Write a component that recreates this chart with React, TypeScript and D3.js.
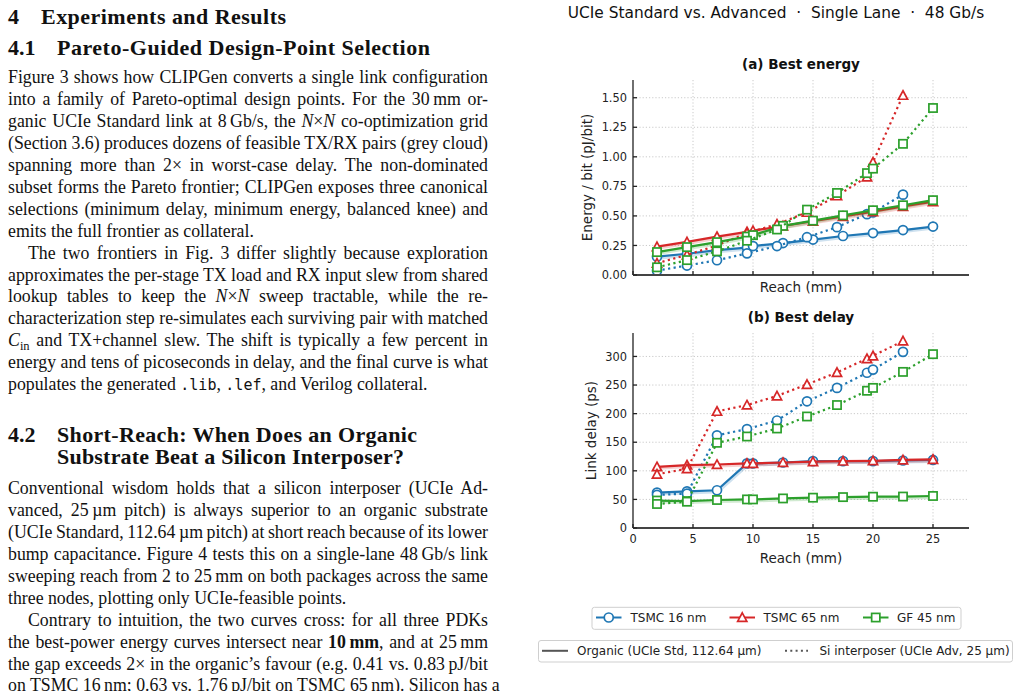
import React, { useLayoutEffect, useRef } from 'react';
import * as d3 from 'd3';

// ---------------- data ----------------
const PDKS = ['TSMC 16 nm', 'TSMC 65 nm', 'GF 45 nm'];
const COLORS = ['#1f77b4', '#d62728', '#2ca02c'];
const MARKERS = ['circle', 'triangle', 'square'];

const orgReach = [2, 4.5, 7, 9.5, 10, 12.5, 15, 17.5, 20, 22.5, 25];
const siReach16 = [2, 4.5, 7, 9.5, 12, 14.5, 17, 19.5, 20, 22.5];
const siReach65 = [2, 4.5, 7, 9.5, 12, 14.5, 17, 19.5, 20, 22.5];
const siReachGF = [2, 4.5, 7, 9.5, 12, 14.5, 17, 19.5, 20, 22.5, 25];

// (a) best energy, pJ/bit
const orgE16 = [0.155, 0.18, 0.21, 0.232, 0.245, 0.27, 0.3, 0.33, 0.355, 0.38, 0.41];
const siE16 = [0.037, 0.08, 0.125, 0.183, 0.245, 0.32, 0.405, 0.515, 0.53, 0.68];
const orgE65 = [0.24, 0.28, 0.325, 0.365, 0.375, 0.415, 0.455, 0.495, 0.535, 0.58, 0.62];
const siE65 = [0.1, 0.17, 0.25, 0.355, 0.43, 0.53, 0.67, 0.83, 0.955, 1.52];
const orgEGF = [0.194, 0.236, 0.278, 0.325, 0.337, 0.416, 0.46, 0.505, 0.548, 0.59, 0.633];
const siEGF = [0.065, 0.126, 0.2, 0.29, 0.385, 0.553, 0.694, 0.862, 0.9, 1.11, 1.413];

// (b) best delay, ps
const orgD16 = [62, 64, 66, 113, 113, 114.5, 117, 117, 117, 118, 119];
const siD16 = [58, 60, 162, 173, 188, 221.5, 245, 271.5, 277, 308];
const orgD65 = [107, 110, 111, 113, 113, 114.5, 116, 117, 117.5, 119, 120];
const siD65 = [94, 103.5, 204, 215, 231, 251, 272, 296, 301, 327];
const orgDGF = [48, 47, 49, 50, 50, 51.7, 53, 54, 54.7, 55, 56];
const siDGF = [42, 46, 149, 160, 174, 195, 215, 240, 245, 273, 304];

const xTicks = [0, 5, 10, 15, 20, 25];
const eTicks = [0, 0.25, 0.5, 0.75, 1.0, 1.25, 1.5];
const dTicks = [0, 50, 100, 150, 200, 250, 300];

const SUPTITLE = 'UCIe Standard vs. Advanced  \u00b7  Single Lane  \u00b7  48 Gb/s';
const PKG_LABELS = ['Organic (UCIe Std, 112.64 \u00b5m)', 'Si interposer (UCIe Adv, 25 \u00b5m)'];

// ---------------- paper text ----------------
type Line = { x: number; y: number; w: number; s: string };
const BODY_LINES: Line[] = [];
const LH = 21.9;
function addPara(lines: string[], y0: number, indent: boolean) {
  lines.forEach((s, i) => {
    const last = i === lines.length - 1;
    const x = indent && i === 0 ? 28 : 8;
    BODY_LINES.push({ x, y: y0 + i * LH, w: last ? 0 : 488 - x, s });
  });
}
addPara([
  'Figure 3 shows how CLIPGen converts a single link configuration',
  'into a family of Pareto-optimal design points. For the 30\u2009mm or-',
  'ganic UCIe Standard link at 8\u2009Gb/s, the *N*\u00d7*N* co-optimization grid',
  '(Section 3.6) produces dozens of feasible TX/RX pairs (grey cloud)',
  'spanning more than 2\u00d7 in worst-case delay. The non-dominated',
  'subset forms the Pareto frontier; CLIPGen exposes three canonical',
  'selections (minimum delay, minimum energy, balanced knee) and',
  'emits the full frontier as collateral.',
], 83.4, false);
addPara([
  'The two frontiers in Fig. 3 differ slightly because exploration',
  'approximates the per-stage TX load and RX input slew from shared',
  'lookup tables to keep the *N*\u00d7*N* sweep tractable, while the re-',
  'characterization step re-simulates each surviving pair with matched',
  '*C*_in_ and TX+channel slew. The shift is typically a few percent in',
  'energy and tens of picoseconds in delay, and the final curve is what',
  'populates the generated `.lib`, `.lef`, and Verilog collateral.',
], 83.4 + 8 * LH, true);
addPara([
  'Conventional wisdom holds that a silicon interposer (UCIe Ad-',
  'vanced, 25\u2009\u00b5m pitch) is always superior to an organic substrate',
  '(UCIe Standard, 112.64\u2009\u00b5m pitch) at short reach because of its lower',
  'bump capacitance. Figure 4 tests this on a single-lane 48\u2009Gb/s link',
  'sweeping reach from 2 to 25\u2009mm on both packages across the same',
  'three nodes, plotting only UCIe-feasible points.',
], 494.3, false);
addPara([
  'Contrary to intuition, the two curves cross: for all three PDKs',
  'the best-power energy curves intersect near ^10\u2009mm^, and at 25\u2009mm',
  'the gap exceeds 2\u00d7 in the organic\u2019s favour (e.g. 0.41 vs. 0.83\u2009pJ/bit',
  'on TSMC 16\u2009nm; 0.63 vs. 1.76\u2009pJ/bit on TSMC 65\u2009nm). Silicon has a',
], 494.3 + 6 * LH, true);

const HEADINGS = [
  { num: '4', x: 41, y: 24, w: 245, t: 'Experiments and Results' },
  { num: '4.1', x: 57, y: 55, w: 373, t: 'Pareto-Guided Design-Point Selection' },
  { num: '4.2', x: 57, y: 441.6, w: 360, t: 'Short-Reach: When Does an Organic' },
  { num: '', x: 57, y: 463.5, w: 347, t: 'Substrate Beat a Silicon Interposer?' },
];

function renderSegs(s: string) {
  const parts = s.split(/(\*[^*]+\*|\^[^^]+\^|`[^`]+`|_[^_]+_)/).filter((p) => p.length);
  let pendingUp = false;
  return parts.map((p, i) => {
    const props: any = { key: i };
    let t = p;
    if (pendingUp) { props.dy = -4; pendingUp = false; }
    if (p[0] === '*') { t = p.slice(1, -1); props.fontStyle = 'italic'; }
    else if (p[0] === '^') { t = p.slice(1, -1); props.fontWeight = 'bold'; }
    else if (p[0] === '`') { t = p.slice(1, -1); props.fontFamily = 'DejaVu Sans Mono'; props.fontSize = 15; }
    else if (p[0] === '_') { t = p.slice(1, -1); props.fontSize = 12.5; props.dy = 4; pendingUp = true; }
    return <tspan {...props}>{t}</tspan>;
  });
}

// ---------------- chart ----------------
const FONT = 'DejaVu Sans';
const xS = d3.scaleLinear().domain([0, 28]).range([633, 969]);
const yE = d3.scaleLinear().domain([0, 1.65]).range([275, 80]);
const yD = d3.scaleLinear().domain([0, 341]).range([528, 333]);

function Marker({ type, x, y, color }: { type: string; x: number; y: number; color: string }) {
  const common = { fill: '#fff', stroke: color, strokeWidth: 1.7 };
  if (type === 'circle') return <circle cx={x} cy={y} r={4.5} {...common} />;
  if (type === 'square') return <rect x={x - 4.1} y={y - 4.1} width={8.2} height={8.2} {...common} />;
  const h = 4.6;
  return <path d={`M${x},${y - h}L${x + h},${y + h * 0.85}L${x - h},${y + h * 0.85}Z`} {...common} />;
}

type Series = { xs: number[]; ys: number[]; color: string; marker: string; dotted: boolean };

function Panel({ y, ticks, fmt, title, ylabel, series, showX, top, bottom, ylabelX }: any) {
  const line = d3.line<[number, number]>().x((d) => xS(d[0])).y((d) => y(d[1]));
  const L = 633, R = 969;
  return (
    <g>
      {/* grid */}
      {ticks.filter((t: number) => t > 0).map((t: number) => (
        <line key={'gy' + t} x1={L} x2={R} y1={y(t)} y2={y(t)} stroke="#c4c4c4" strokeWidth={0.9} strokeDasharray="1.2,2" />
      ))}
      {xTicks.filter((t) => t > 0).map((t) => (
        <line key={'gx' + t} x1={xS(t)} x2={xS(t)} y1={top} y2={bottom} stroke="#c4c4c4" strokeWidth={0.9} strokeDasharray="1.2,2" />
      ))}
      {/* series */}
      {series.map((s: Series, i: number) => {
        const pts = s.xs.map((x, k) => [x, s.ys[k]] as [number, number]);
        return (
          <g key={i}>
            {!s.dotted && (
              <path d={line(pts) || ''} fill="none" stroke={s.color} strokeWidth={2.8} opacity={0.22} transform="translate(1,1.6)" />
            )}
            <path d={line(pts) || ''} fill="none" stroke={s.color} strokeWidth={2.2}
              strokeDasharray={s.dotted ? '2.2,3.4' : undefined} />
            {pts.map((p, k) => (
              <Marker key={k} type={s.marker} x={xS(p[0])} y={y(p[1])} color={s.color} />
            ))}
          </g>
        );
      })}
      {/* spines */}
      <line x1={L} x2={L} y1={top} y2={bottom} stroke="#222" strokeWidth={1.3} />
      <line x1={L} x2={R} y1={bottom} y2={bottom} stroke="#444" strokeWidth={1.8} />
      {/* y ticks */}
      {ticks.map((t: number) => (
        <g key={'ty' + t}>
          <line x1={L} x2={L + 4} y1={y(t)} y2={y(t)} stroke="#222" strokeWidth={1.3} />
          <text x={627} y={y(t) + 4.1} textAnchor="end" fontFamily={FONT} fontSize={11.4} fill="#222">{fmt(t)}</text>
        </g>
      ))}
      {/* x ticks */}
      {xTicks.map((t) => (
        <g key={'tx' + t}>
          <line x1={xS(t)} x2={xS(t)} y1={bottom} y2={bottom - 4} stroke="#222" strokeWidth={1.3} />
          {showX && (
            <text x={xS(t)} y={bottom + 15.3} textAnchor="middle" fontFamily={FONT} fontSize={11.4} fill="#222">{t}</text>
          )}
        </g>
      ))}
      <text x={(L + R) / 2} y={top - 11} textAnchor="middle" fontFamily={FONT} fontWeight="bold" fontSize={13.5} fill="#111">{title}</text>
      <text x={(L + R) / 2} y={showX ? bottom + 35 : bottom + 17} textAnchor="middle" fontFamily={FONT} fontSize={13.5} fill="#222">Reach (mm)</text>
      <text transform={`translate(${ylabelX},${(top + bottom) / 2}) rotate(-90)`} textAnchor="middle" fontFamily={FONT} fontSize={13.5} fill="#222">{ylabel}</text>
    </g>
  );
}

export default function App() {
  const ref = useRef<SVGSVGElement>(null);
  useLayoutEffect(() => {
    document.body.style.margin = '0';
    const svg = ref.current;
    if (!svg) return;
    d3.select(svg).selectAll<SVGTextElement, unknown>('text.just').each(function () {
      const el = this;
      const target = +(el.getAttribute('data-w') || 0);
      el.style.wordSpacing = '0px';
      const w = el.getComputedTextLength();
      const n = ((el.textContent || '').match(/ /g) || []).length;
      if (n > 0) el.style.wordSpacing = `${(target - w) / n}px`;
    });
  }, []);

  const eSeries: Series[] = [];
  const dSeries: Series[] = [];
  const orgE = [orgE16, orgE65, orgEGF];
  const siE = [siE16, siE65, siEGF];
  const orgD = [orgD16, orgD65, orgDGF];
  const siD = [siD16, siD65, siDGF];
  const siR = [siReach16, siReach65, siReachGF];
  PDKS.forEach((_, i) => {
    eSeries.push({ xs: orgReach, ys: orgE[i], color: COLORS[i], marker: MARKERS[i], dotted: false });
    eSeries.push({ xs: siR[i], ys: siE[i], color: COLORS[i], marker: MARKERS[i], dotted: true });
    dSeries.push({ xs: orgReach, ys: orgD[i], color: COLORS[i], marker: MARKERS[i], dotted: false });
    dSeries.push({ xs: siR[i], ys: siD[i], color: COLORS[i], marker: MARKERS[i], dotted: true });
  });

  const legPdkX = [596, 729.5, 863];
  const legTextX = [630.5, 763.5, 897];

  return (
    <svg ref={ref} width={1021} height={691} style={{ position: 'absolute', left: 0, top: 0, background: '#fff' }}>
      <rect width={1021} height={691} fill="#fff" />
      {/* ---- paper text ---- */}
      <g fontFamily="Liberation Serif" fill="#111">
        {HEADINGS.map((h, i) => (
          <g key={i} fontWeight="bold" fontSize={22}>
            {h.num && <text x={8} y={h.y}>{h.num}</text>}
            <text x={h.x} y={h.y} textLength={h.w} lengthAdjust="spacing">{h.t}</text>
          </g>
        ))}
        {BODY_LINES.map((l, i) => (
          <text key={i} x={l.x} y={l.y} fontSize={17.8} className={l.w ? 'just' : undefined} data-w={l.w}
            style={{ whiteSpace: 'pre' }}>
            {renderSegs(l.s)}
          </text>
        ))}
      </g>
      {/* ---- chart ---- */}
      <text x={776} y={18.3} textAnchor="middle" fontFamily={FONT} fontSize={15.4} fill="#111" style={{ whiteSpace: 'pre' }}>{SUPTITLE}</text>
      <Panel y={yE} ticks={eTicks} fmt={(t: number) => t.toFixed(2)} title="(a) Best energy" ylabel="Energy / bit (pJ/bit)"
        series={eSeries} showX={false} top={80} bottom={275} ylabelX={592} />
      <Panel y={yD} ticks={dTicks} fmt={(t: number) => String(t)} title="(b) Best delay" ylabel="Link delay (ps)"
        series={dSeries} showX={true} top={333} bottom={528} ylabelX={595.5} />
      {/* legend 1 */}
      <rect x={592} y={607.3} width={369} height={22} rx={2.5} fill="#fff" stroke="#cfcfcf" strokeWidth={1} />
      {PDKS.map((p, i) => (
        <g key={p}>
          <line x1={legPdkX[i]} x2={legPdkX[i] + 25.5} y1={617.5} y2={617.5} stroke={COLORS[i]} strokeWidth={2} />
          <Marker type={MARKERS[i]} x={legPdkX[i] + 12.75} y={617.5} color={COLORS[i]} />
          <text x={legTextX[i]} y={621.8} fontFamily={FONT} fontSize={12} fill="#222">{p}</text>
        </g>
      ))}
      {/* legend 2 */}
      <rect x={538.5} y={640.5} width={474} height={21.5} rx={2.5} fill="#fff" stroke="#cfcfcf" strokeWidth={1} />
      <line x1={542} x2={568} y1={650.8} y2={650.8} stroke="#555" strokeWidth={2} />
      <text x={577} y={655.2} fontFamily={FONT} fontSize={12} fill="#222">{PKG_LABELS[0]}</text>
      <line x1={785} x2={808} y1={650.8} y2={650.8} stroke="#555" strokeWidth={2} strokeDasharray="2,3.3" />
      <text x={819.5} y={655.2} fontFamily={FONT} fontSize={12} fill="#222">{PKG_LABELS[1]}</text>
    </svg>
  );
}
